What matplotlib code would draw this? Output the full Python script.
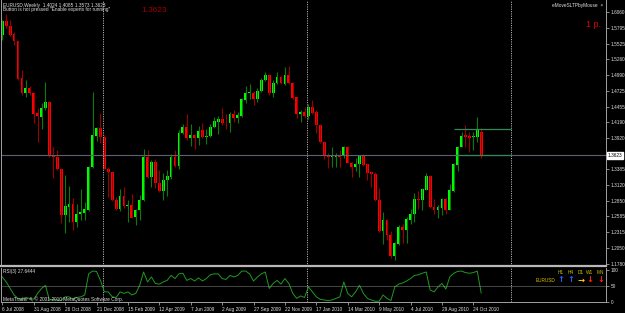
import matplotlib
matplotlib.use("Agg")
import matplotlib.pyplot as plt
import numpy as np

plt.rcParams["font.family"] = ["Liberation Sans", "DejaVu Sans"]

# EURUSD weekly candles (6 Jul 2008 .. Nov 2010)
opens = [1.5679, 1.5906, 1.5821, 1.5696, 1.5565, 1.4940, 1.4683, 1.4779, 1.4683, 1.4342,
         1.4284, 1.4437, 1.4540, 1.3630, 1.3601, 1.3385, 1.2605, 1.2747, 1.2805, 1.2490,
         1.2622, 1.2644, 1.2702, 1.3419, 1.3954, 1.4096, 1.3942, 1.3396, 1.3334, 1.2873,
         1.2719, 1.2934, 1.2759, 1.2776, 1.2576, 1.2690, 1.2861, 1.3601, 1.3249, 1.3515,
         1.3163, 1.3020, 1.3203, 1.3259, 1.3601, 1.3442, 1.4011, 1.4103, 1.3925, 1.3971,
         1.3925, 1.4057, 1.3942, 1.3954, 1.4113, 1.4198, 1.4239, 1.4181, 1.4171, 1.4325,
         1.4267, 1.4301, 1.4569, 1.4680, 1.4694, 1.4586, 1.4728, 1.4899, 1.4984, 1.4694,
         1.4854, 1.4950, 1.4842, 1.4996, 1.4854, 1.4615, 1.4325, 1.4369, 1.4301, 1.4455,
         1.4359, 1.4142, 1.3857, 1.3613, 1.3601, 1.3601, 1.3613, 1.3613, 1.3761, 1.3498,
         1.3430, 1.3476, 1.3618, 1.3476, 1.3344, 1.3305, 1.2861, 1.2337, 1.2519, 1.2263,
         1.1905, 1.2121, 1.2405, 1.2361, 1.2531, 1.2622, 1.2878, 1.2861, 1.3044, 1.3271,
         1.2747, 1.2690, 1.2736, 1.2878, 1.2702, 1.3020, 1.3459, 1.3771, 1.3971, 1.3954,
         1.3932, 1.3942, 1.4024]
highs = [1.5935, 1.6038, 1.5935, 1.5730, 1.5594, 1.5081, 1.4899, 1.4808, 1.4706, 1.4432,
         1.4523, 1.4865, 1.4557, 1.3771, 1.3715, 1.3408, 1.3288, 1.3100, 1.2895, 1.2805,
         1.3061, 1.2832, 1.3442, 1.4711, 1.4113, 1.4342, 1.3971, 1.3430, 1.3344, 1.2917,
         1.3049, 1.3088, 1.2873, 1.2975, 1.2707, 1.2946, 1.3727, 1.3715, 1.3544, 1.3556,
         1.3373, 1.3317, 1.3373, 1.3642, 1.3715, 1.4057, 1.4154, 1.4330, 1.4159, 1.3988,
         1.4125, 1.4181, 1.4069, 1.4154, 1.4273, 1.4296, 1.4437, 1.4325, 1.4369, 1.4398,
         1.4369, 1.4603, 1.4813, 1.4842, 1.4723, 1.4769, 1.4940, 1.5042, 1.4996, 1.4911,
         1.5035, 1.4979, 1.5128, 1.5138, 1.4865, 1.4625, 1.4398, 1.4455, 1.4501, 1.4569,
         1.4398, 1.4159, 1.3869, 1.3659, 1.3771, 1.3669, 1.3715, 1.3783, 1.3788, 1.3510,
         1.3584, 1.3630, 1.3647, 1.3493, 1.3361, 1.3344, 1.3078, 1.2661, 1.2537, 1.2331,
         1.2149, 1.2446, 1.2463, 1.2571, 1.2707, 1.2986, 1.3020, 1.3066, 1.3317, 1.3288,
         1.2890, 1.2776, 1.2895, 1.2895, 1.3146, 1.3493, 1.3783, 1.4028, 1.4142, 1.4028,
         1.4028, 1.4273, 1.4085]
lows = [1.5594, 1.5799, 1.5662, 1.5508, 1.4899, 1.4654, 1.4615, 1.4654, 1.4181, 1.3857,
        1.4069, 1.4398, 1.3601, 1.3232, 1.3373, 1.2473, 1.2302, 1.2490, 1.2361, 1.2405,
        1.2531, 1.2519, 1.2678, 1.3408, 1.3874, 1.3829, 1.3385, 1.2917, 1.2849, 1.2702,
        1.2678, 1.2736, 1.2490, 1.2554, 1.2434, 1.2531, 1.2844, 1.3232, 1.3088, 1.3071,
        1.3003, 1.2861, 1.2934, 1.3215, 1.3425, 1.3396, 1.3993, 1.3886, 1.3783, 1.3727,
        1.3800, 1.3920, 1.3818, 1.3932, 1.4086, 1.3988, 1.4142, 1.4069, 1.4028, 1.4198,
        1.4171, 1.4273, 1.4513, 1.4581, 1.4484, 1.4540, 1.4711, 1.4888, 1.4654, 1.4615,
        1.4837, 1.4837, 1.4825, 1.4842, 1.4581, 1.4256, 1.4198, 1.4256, 1.4239, 1.4330,
        1.4011, 1.3840, 1.3556, 1.3408, 1.3430, 1.3430, 1.3419, 1.3573, 1.3488, 1.3259,
        1.3356, 1.3259, 1.3442, 1.3203, 1.3088, 1.2844, 1.2314, 1.2121, 1.2178, 1.1887,
        1.1848, 1.2104, 1.2132, 1.2132, 1.2463, 1.2490, 1.2707, 1.2702, 1.3032, 1.2736,
        1.2634, 1.2566, 1.2605, 1.2634, 1.2690, 1.3003, 1.3361, 1.3761, 1.3761, 1.3676,
        1.3715, 1.3857, 1.3573]
closes = [1.5906, 1.5821, 1.5679, 1.5565, 1.4928, 1.4683, 1.4779, 1.4683, 1.4330, 1.4296,
          1.4437, 1.4540, 1.3618, 1.3601, 1.3385, 1.2605, 1.2759, 1.2805, 1.2490, 1.2622,
          1.2656, 1.2712, 1.3430, 1.3966, 1.4096, 1.3942, 1.3396, 1.3334, 1.2873, 1.2719,
          1.2934, 1.2759, 1.2776, 1.2566, 1.2690, 1.2861, 1.3601, 1.3249, 1.3515, 1.3156,
          1.3020, 1.3203, 1.3271, 1.3601, 1.3442, 1.4011, 1.4103, 1.3925, 1.3971, 1.3925,
          1.4040, 1.3932, 1.3954, 1.4103, 1.4210, 1.4239, 1.4171, 1.4171, 1.4330, 1.4267,
          1.4313, 1.4581, 1.4694, 1.4697, 1.4586, 1.4728, 1.4911, 1.4984, 1.4694, 1.4854,
          1.4950, 1.4854, 1.4996, 1.4854, 1.4608, 1.4325, 1.4369, 1.4301, 1.4455, 1.4342,
          1.4142, 1.3857, 1.3613, 1.3590, 1.3625, 1.3630, 1.3601, 1.3761, 1.3498, 1.3430,
          1.3476, 1.3618, 1.3459, 1.3327, 1.3305, 1.2861, 1.2337, 1.2519, 1.2263, 1.1905,
          1.2132, 1.2405, 1.2361, 1.2548, 1.2622, 1.2878, 1.2861, 1.3049, 1.3271, 1.2747,
          1.2690, 1.2747, 1.2878, 1.2702, 1.3032, 1.3471, 1.3771, 1.3959, 1.3942, 1.3925,
          1.3959, 1.4069, 1.3623]

# RSI(3) sub-window
rsi = [79, 63, 42, 21, 10, 7, 13, 10, 7, 26,
       42, 52, 5, 7, 5, 3, 15, 15, 7, 13,
       15, 21, 89, 98, 97, 68, 31, 31, 15, 13,
       31, 26, 31, 21, 26, 52, 95, 63, 79, 58,
       56, 63, 68, 84, 74, 89, 91, 68, 74, 66,
       76, 66, 74, 86, 89, 89, 74, 71, 84, 79,
       84, 98, 98, 89, 66, 79, 89, 95, 42, 58,
       68, 56, 74, 58, 26, 10, 18, 13, 47, 31,
       15, 7, 5, 3, 5, 10, 15, 63, 26, 15,
       31, 52, 26, 10, 5, 1, 1, 21, 10, 3,
       47, 56, 60, 66, 74, 84, 86, 91, 95, 37,
       31, 47, 58, 40, 79, 91, 97, 98, 93, 91,
       93, 98, 27.64]

date_labels = ["6 Jul 2008", "31 Aug 2008", "26 Oct 2008", "21 Dec 2008", "15 Feb 2009",
               "12 Apr 2009", "7 Jun 2009", "2 Aug 2009", "27 Sep 2009", "22 Nov 2009",
               "17 Jan 2010", "14 Mar 2010", "9 May 2010", "4 Jul 2010", "29 Aug 2010",
               "24 Oct 2010"]
price_ticks = [1.6060, 1.5795, 1.5525, 1.5260, 1.4990, 1.4725, 1.4455, 1.4190, 1.3920,
               1.3385, 1.3120, 1.2850, 1.2585, 1.2315, 1.2050, 1.1780]
year_starts = [26, 78, 130]       # first bar of 2009, 2010, 2011
last_price = 1.3623
tp_level, sl_level = 1.4069, 1.3625
signal_tf = ["H1", "H4", "D1", "W1", "MN"]
signal_dir = ["↑", "↑", "→", "↓", "↓"]

W, H = 625, 313
BG = "#000000"
GRID = "#a0a0a0"
TXT = "#e0e0e0"

fig = plt.figure(figsize=(W / 100, H / 100), dpi=100, facecolor=BG)


def px_axes(x0, y0, x1, y1):
    return fig.add_axes([x0 / W, 1 - y1 / H, (x1 - x0) / W, (y1 - y0) / H])


ax = px_axes(1, 0.5, 606, 265.5)
ax_rsi = px_axes(1, 267.5, 606, 302)

n = len(opens)
x = np.arange(n)
o, h, l, c = map(np.array, (opens, highs, lows, closes))
up = c >= o

# candles
ax.vlines(x[up], l[up], h[up], color="#0a7a0a", lw=0.8)
ax.vlines(x[~up], l[~up], h[~up], color="#9a0000", lw=0.8)
body_h = np.maximum(np.abs(c - o), 0.0008)
ax.bar(x[up], body_h[up], bottom=np.minimum(o, c)[up], width=0.72,
       color="#00ff00", linewidth=0, antialiased=False)
ax.bar(x[~up], body_h[~up], bottom=np.minimum(o, c)[~up], width=0.72,
       color="#ff0000", linewidth=0, antialiased=False)

xlim = (-0.33, 153.8)
for a in (ax, ax_rsi):
    a.set_facecolor(BG)
    a.set_xlim(*xlim)
    for s in a.spines.values():
        s.set_color(GRID)
        s.set_linewidth(0.7)
    for xs in year_starts:
        a.axvline(xs - 0.4, color="#b0b0b0", lw=0.7, ls=(0, (1.2, 1.2)))

ax.set_ylim(1.1751, 1.6260)
ax.spines["top"].set_visible(False)
ax.spines["bottom"].set_linewidth(1.6)
ax.spines["bottom"].set_color("#b8b8b8")

# current price and SL/TP lines
ax.axhline(last_price, color="#5c6070", lw=0.8)
ax.hlines([tp_level, sl_level], year_starts[1] + 37, year_starts[2] - 0.4,
          color="#2e8b57", lw=0.9)

ax.set_xticks([])
ax.yaxis.tick_right()
ax.set_yticks(price_ticks)
ax.set_yticklabels([f"{p:.4f}" for p in price_ticks])
ax.tick_params(axis="y", colors=GRID, labelcolor=TXT, labelsize=3.4, length=2,
               width=0.6, pad=1.5)
ax.text(1.003, last_price, f"{last_price:.4f}", transform=ax.get_yaxis_transform(),
        fontsize=3.4, color="black", va="center", ha="left",
        bbox=dict(boxstyle="square,pad=0.15", fc="white", ec="white"))

# RSI window
ax_rsi.plot(x, rsi, color="#1f9a1f", lw=0.7)
ax_rsi.set_ylim(-1.6, 109.5)
ax_rsi.axhline(50, color="#a0a0a0", lw=0.6, ls=(0, (1.2, 1.2)))
ax_rsi.yaxis.tick_right()
ax_rsi.set_yticks([100, 50, 0])
ax_rsi.set_yticklabels(["100", "50", "0"])
ax_rsi.tick_params(axis="y", colors=GRID, labelcolor=TXT, labelsize=3.4, length=2,
                   width=0.6, pad=1.5)
ax_rsi.set_xticks(np.arange(len(date_labels)) * 8)
ax_rsi.set_xticklabels(date_labels)
ax_rsi.tick_params(axis="x", colors=GRID, labelcolor=TXT, labelsize=3.4, length=2,
                   width=0.6, pad=1.5)
for lab in ax_rsi.get_xticklabels():
    lab.set_ha("left")
ax_rsi.spines["top"].set_visible(False)

# texts
fs = 3.4
fig.text(3 / W, 1 - 5 / H, "EURUSD,Weekly  1.4024 1.4085 1.3573 1.3623",
         color=TXT, fontsize=fs, va="center")
fig.text(3 / W, 1 - 10 / H, 'Button is not pressed "Enable experts for running"',
         color=TXT, fontsize=fs, va="center")
fig.text(141 / W, 1 - 10.5 / H, "1.3623", color="#a00000", fontsize=6, va="center")
fig.text(603 / W, 1 - 5.5 / H, "eMoveSLTPbyMouse  ×", color=TXT, fontsize=fs,
         va="center", ha="right")
fig.text(601 / W, 1 - 24.5 / H, "1 p.", color="#e00000", fontsize=6.5,
         va="center", ha="right")
fig.text(3 / W, 1 - 271.5 / H, "RSI(3) 27.6444", color=TXT, fontsize=fs, va="center")
fig.text(3 / W, 1 - 299.5 / H, "MetaTrader 4, © 2001-2010 MetaQuotes Software Corp.",
         color=TXT, fontsize=fs, va="center")

# signal panel
sig_x = [561, 571, 581, 590, 600.5]
sig_col = ["#2060ff", "#2060ff", "#ffd000", "#ff2020", "#ff2020"]
for sx, tf, d, col in zip(sig_x, signal_tf, signal_dir, sig_col):
    fig.text(sx / W, 1 - 272 / H, tf, color="#c8c000", fontsize=fs,
             va="center", ha="center")
    fig.text(sx / W, 1 - 280 / H, d, color=col, fontsize=6, fontweight="bold",
             va="center", ha="center", family="DejaVu Sans")
fig.text(546 / W, 1 - 280 / H, "EURUSD", color="#e0c000", fontsize=fs,
         va="center", ha="center")

fig.savefig("out.png", dpi=100, facecolor=BG)
